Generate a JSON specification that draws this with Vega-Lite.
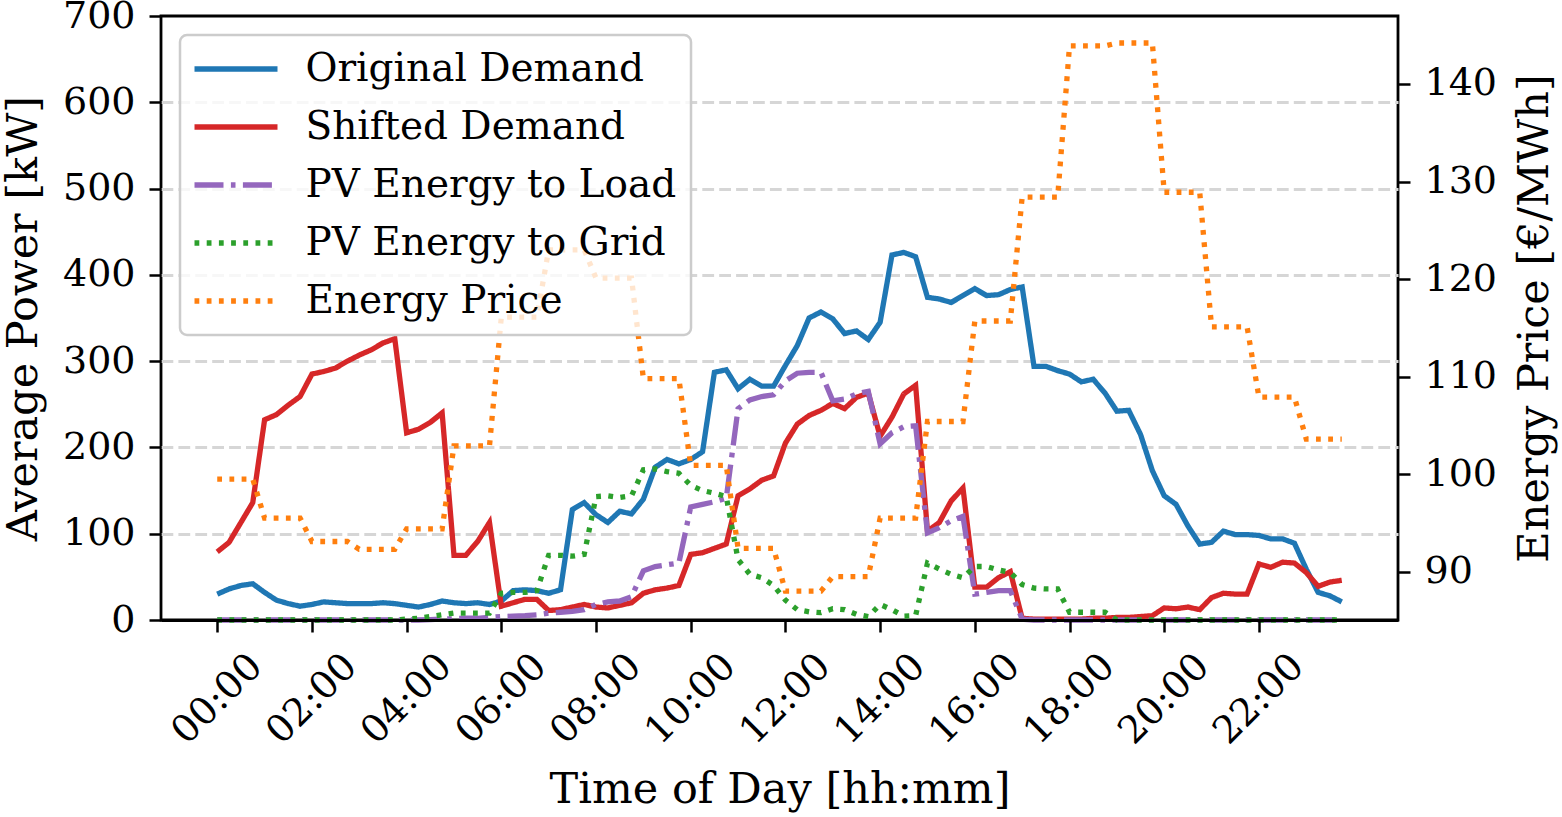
{
  "$schema": "https://vega.github.io/schema/vega-lite/v6.json",
  "width": 1237,
  "height": 604,
  "autosize": {"type": "none"},
  "padding": {"left": 161, "top": 16, "right": 164, "bottom": 197},
  "background": "white",
  "config": {
    "font": "DejaVu Serif",
    "view": {"stroke": "black", "strokeWidth": 2.8},
    "axis": {
      "labelFont": "DejaVu Serif",
      "labelFontSize": 38,
      "labelColor": "black",
      "titleFont": "DejaVu Serif",
      "titleFontSize": 43,
      "titleFontWeight": "normal",
      "titleColor": "black",
      "domain": false,
      "tickColor": "black",
      "tickWidth": 2.5,
      "tickSize": 12,
      "labelPadding": 14,
      "grid": false
    },
    "legend": {
      "orient": "none",
      "legendX": 19,
      "legendY": 19,
      "labelFont": "DejaVu Serif",
      "labelFontSize": 39,
      "labelColor": "black",
      "labelLimit": 0,
      "symbolType": "stroke",
      "symbolSize": 6889,
      "symbolStrokeWidth": 5.3,
      "symbolOffset": -2.5,
      "labelOffset": 25,
      "clipHeight": 40,
      "padding": 14,
      "rowPadding": 18,
      "strokeColor": "#cccccc",
      "fillColor": "rgba(255,255,255,0.8)",
      "cornerRadius": 7
    }
  },
  "data": {
    "values": [
      {"t": 0, "orig": 30, "shifted": 79, "pv_load": 0, "pv_grid": 0, "price": 99.5},
      {"t": 0.25, "orig": 36, "shifted": 90, "pv_load": 0, "pv_grid": 0, "price": 99.5},
      {"t": 0.5, "orig": 40, "shifted": 113, "pv_load": 0, "pv_grid": 0, "price": 99.5},
      {"t": 0.75, "orig": 42, "shifted": 136, "pv_load": 0, "pv_grid": 0, "price": 99.5},
      {"t": 1, "orig": 32, "shifted": 232, "pv_load": 0, "pv_grid": 0, "price": 95.5},
      {"t": 1.25, "orig": 23, "shifted": 238, "pv_load": 0, "pv_grid": 0, "price": 95.5},
      {"t": 1.5, "orig": 19, "shifted": 249, "pv_load": 0, "pv_grid": 0, "price": 95.5},
      {"t": 1.75, "orig": 16, "shifted": 259, "pv_load": 0, "pv_grid": 0, "price": 95.5},
      {"t": 2, "orig": 18, "shifted": 285, "pv_load": 0, "pv_grid": 0, "price": 93.1},
      {"t": 2.25, "orig": 21, "shifted": 288, "pv_load": 0, "pv_grid": 0, "price": 93.1},
      {"t": 2.5, "orig": 20, "shifted": 292, "pv_load": 0, "pv_grid": 0, "price": 93.1},
      {"t": 2.75, "orig": 19, "shifted": 300, "pv_load": 0, "pv_grid": 0, "price": 93.1},
      {"t": 3, "orig": 19, "shifted": 307, "pv_load": 0, "pv_grid": 0, "price": 92.3},
      {"t": 3.25, "orig": 19, "shifted": 313, "pv_load": 0, "pv_grid": 0, "price": 92.3},
      {"t": 3.5, "orig": 20, "shifted": 321, "pv_load": 0, "pv_grid": 0, "price": 92.3},
      {"t": 3.75, "orig": 19, "shifted": 326, "pv_load": 0, "pv_grid": 0, "price": 92.3},
      {"t": 4, "orig": 17, "shifted": 217, "pv_load": 0, "pv_grid": 1, "price": 94.4},
      {"t": 4.25, "orig": 15, "shifted": 221, "pv_load": 0, "pv_grid": 2, "price": 94.4},
      {"t": 4.5, "orig": 18, "shifted": 229, "pv_load": 0.5, "pv_grid": 4, "price": 94.4},
      {"t": 4.75, "orig": 22, "shifted": 240, "pv_load": 1, "pv_grid": 6, "price": 94.4},
      {"t": 5, "orig": 20, "shifted": 75, "pv_load": 1.5, "pv_grid": 8, "price": 102.9},
      {"t": 5.25, "orig": 19, "shifted": 75, "pv_load": 2, "pv_grid": 8, "price": 102.9},
      {"t": 5.5, "orig": 20, "shifted": 91, "pv_load": 2, "pv_grid": 8, "price": 102.9},
      {"t": 5.75, "orig": 18, "shifted": 113, "pv_load": 3, "pv_grid": 8, "price": 102.9},
      {"t": 6, "orig": 22, "shifted": 16, "pv_load": 4, "pv_grid": 31, "price": 116.1},
      {"t": 6.25, "orig": 34, "shifted": 20, "pv_load": 4.5, "pv_grid": 32, "price": 116.1},
      {"t": 6.5, "orig": 35, "shifted": 24, "pv_load": 5, "pv_grid": 32, "price": 116.1},
      {"t": 6.75, "orig": 34, "shifted": 24, "pv_load": 6, "pv_grid": 34, "price": 116.1},
      {"t": 7, "orig": 31, "shifted": 11, "pv_load": 8, "pv_grid": 75, "price": 123.0},
      {"t": 7.25, "orig": 35, "shifted": 12, "pv_load": 9, "pv_grid": 75, "price": 123.0},
      {"t": 7.5, "orig": 128, "shifted": 15, "pv_load": 10, "pv_grid": 74, "price": 123.0},
      {"t": 7.75, "orig": 136, "shifted": 18, "pv_load": 12, "pv_grid": 76, "price": 123.0},
      {"t": 8, "orig": 122, "shifted": 15, "pv_load": 18, "pv_grid": 143, "price": 120.1},
      {"t": 8.25, "orig": 113, "shifted": 14, "pv_load": 21, "pv_grid": 144, "price": 120.1},
      {"t": 8.5, "orig": 126, "shifted": 17, "pv_load": 22, "pv_grid": 142, "price": 120.1},
      {"t": 8.75, "orig": 123, "shifted": 20, "pv_load": 27, "pv_grid": 144, "price": 120.1},
      {"t": 9, "orig": 140, "shifted": 31, "pv_load": 57, "pv_grid": 174, "price": 109.8},
      {"t": 9.25, "orig": 177, "shifted": 35, "pv_load": 62, "pv_grid": 175, "price": 109.8},
      {"t": 9.5, "orig": 186, "shifted": 37, "pv_load": 64, "pv_grid": 172, "price": 109.8},
      {"t": 9.75, "orig": 181, "shifted": 40, "pv_load": 66, "pv_grid": 170, "price": 109.8},
      {"t": 10, "orig": 186, "shifted": 76, "pv_load": 131, "pv_grid": 156, "price": 100.9},
      {"t": 10.25, "orig": 195, "shifted": 78, "pv_load": 134, "pv_grid": 150, "price": 100.9},
      {"t": 10.5, "orig": 287, "shifted": 83, "pv_load": 137, "pv_grid": 147, "price": 100.9},
      {"t": 10.75, "orig": 290, "shifted": 88, "pv_load": 141, "pv_grid": 143, "price": 100.9},
      {"t": 11, "orig": 268, "shifted": 144, "pv_load": 245, "pv_grid": 70, "price": 92.4},
      {"t": 11.25, "orig": 279, "shifted": 152, "pv_load": 255, "pv_grid": 53, "price": 92.4},
      {"t": 11.5, "orig": 271, "shifted": 162, "pv_load": 259, "pv_grid": 49, "price": 92.4},
      {"t": 11.75, "orig": 271, "shifted": 167, "pv_load": 261, "pv_grid": 40, "price": 92.4},
      {"t": 12, "orig": 295, "shifted": 205, "pv_load": 277, "pv_grid": 23, "price": 88.0},
      {"t": 12.25, "orig": 318, "shifted": 227, "pv_load": 286, "pv_grid": 12, "price": 88.0},
      {"t": 12.5, "orig": 350, "shifted": 237, "pv_load": 287, "pv_grid": 9.5, "price": 88.0},
      {"t": 12.75, "orig": 357, "shifted": 243, "pv_load": 287, "pv_grid": 8.5, "price": 88.0},
      {"t": 13, "orig": 349, "shifted": 251, "pv_load": 254, "pv_grid": 13, "price": 89.5},
      {"t": 13.25, "orig": 332, "shifted": 245, "pv_load": 256, "pv_grid": 12, "price": 89.5},
      {"t": 13.5, "orig": 335, "shifted": 258, "pv_load": 262, "pv_grid": 6.5, "price": 89.5},
      {"t": 13.75, "orig": 325, "shifted": 263, "pv_load": 265, "pv_grid": 4, "price": 89.5},
      {"t": 14, "orig": 345, "shifted": 213, "pv_load": 204, "pv_grid": 18, "price": 95.5},
      {"t": 14.25, "orig": 423, "shifted": 235, "pv_load": 217, "pv_grid": 12, "price": 95.5},
      {"t": 14.5, "orig": 426, "shifted": 262, "pv_load": 224, "pv_grid": 4.5, "price": 95.5},
      {"t": 14.75, "orig": 421, "shifted": 272, "pv_load": 225, "pv_grid": 5, "price": 95.5},
      {"t": 15, "orig": 374, "shifted": 103, "pv_load": 101, "pv_grid": 66, "price": 105.4},
      {"t": 15.25, "orig": 372, "shifted": 113, "pv_load": 107, "pv_grid": 59, "price": 105.4},
      {"t": 15.5, "orig": 368, "shifted": 138, "pv_load": 115, "pv_grid": 53, "price": 105.4},
      {"t": 15.75, "orig": 376, "shifted": 153, "pv_load": 120, "pv_grid": 49, "price": 105.4},
      {"t": 16, "orig": 384, "shifted": 38, "pv_load": 30, "pv_grid": 62, "price": 115.7},
      {"t": 16.25, "orig": 376, "shifted": 38, "pv_load": 32, "pv_grid": 62, "price": 115.7},
      {"t": 16.5, "orig": 377, "shifted": 49, "pv_load": 34, "pv_grid": 58, "price": 115.7},
      {"t": 16.75, "orig": 383, "shifted": 56, "pv_load": 34, "pv_grid": 55, "price": 115.7},
      {"t": 17, "orig": 386, "shifted": 2, "pv_load": 1, "pv_grid": 41, "price": 128.4},
      {"t": 17.25, "orig": 294, "shifted": 1, "pv_load": 0, "pv_grid": 37, "price": 128.4},
      {"t": 17.5, "orig": 294, "shifted": 1, "pv_load": 0, "pv_grid": 36, "price": 128.4},
      {"t": 17.75, "orig": 289, "shifted": 1, "pv_load": 0, "pv_grid": 36, "price": 128.4},
      {"t": 18, "orig": 285, "shifted": 1, "pv_load": 0, "pv_grid": 9, "price": 143.9},
      {"t": 18.25, "orig": 276, "shifted": 1, "pv_load": 0, "pv_grid": 9, "price": 143.9},
      {"t": 18.5, "orig": 279, "shifted": 2, "pv_load": 0, "pv_grid": 9, "price": 143.9},
      {"t": 18.75, "orig": 263, "shifted": 2, "pv_load": 0, "pv_grid": 9, "price": 143.9},
      {"t": 19, "orig": 242, "shifted": 3, "pv_load": 0, "pv_grid": 0, "price": 144.2},
      {"t": 19.25, "orig": 243, "shifted": 3, "pv_load": 0, "pv_grid": 0, "price": 144.2},
      {"t": 19.5, "orig": 215, "shifted": 4, "pv_load": 0, "pv_grid": 0, "price": 144.2},
      {"t": 19.75, "orig": 173, "shifted": 5, "pv_load": 0, "pv_grid": 0, "price": 144.2},
      {"t": 20, "orig": 144, "shifted": 14, "pv_load": 0, "pv_grid": 0, "price": 128.9},
      {"t": 20.25, "orig": 134, "shifted": 13, "pv_load": 0, "pv_grid": 0, "price": 128.9},
      {"t": 20.5, "orig": 109, "shifted": 15, "pv_load": 0, "pv_grid": 0, "price": 128.9},
      {"t": 20.75, "orig": 88, "shifted": 12, "pv_load": 0, "pv_grid": 0, "price": 128.9},
      {"t": 21, "orig": 90, "shifted": 26, "pv_load": 0, "pv_grid": 0, "price": 115.1},
      {"t": 21.25, "orig": 103, "shifted": 31, "pv_load": 0, "pv_grid": 0, "price": 115.1},
      {"t": 21.5, "orig": 99, "shifted": 30, "pv_load": 0, "pv_grid": 0, "price": 115.1},
      {"t": 21.75, "orig": 99, "shifted": 30, "pv_load": 0, "pv_grid": 0, "price": 115.1},
      {"t": 22, "orig": 98, "shifted": 65, "pv_load": 0, "pv_grid": 0, "price": 107.9},
      {"t": 22.25, "orig": 94, "shifted": 61, "pv_load": 0, "pv_grid": 0, "price": 107.9},
      {"t": 22.5, "orig": 94, "shifted": 67, "pv_load": 0, "pv_grid": 0, "price": 107.9},
      {"t": 22.75, "orig": 89, "shifted": 66, "pv_load": 0, "pv_grid": 0, "price": 107.9},
      {"t": 23, "orig": 59, "shifted": 55, "pv_load": 0, "pv_grid": 0, "price": 103.6},
      {"t": 23.25, "orig": 32, "shifted": 39, "pv_load": 0, "pv_grid": 0, "price": 103.6},
      {"t": 23.5, "orig": 28, "shifted": 44, "pv_load": 0, "pv_grid": 0, "price": 103.6},
      {"t": 23.75, "orig": 21, "shifted": 46, "pv_load": 0, "pv_grid": 0, "price": 103.6}
    ]
  },
  "transform": [
    {"fold": ["orig", "shifted", "pv_load", "pv_grid", "price"], "as": ["series", "value"]}
  ],
  "encoding": {
    "x": {
      "field": "t",
      "type": "quantitative",
      "scale": {"domain": [-1.1875, 24.9375], "nice": false, "zero": false},
      "axis": {
        "title": "Time of Day [hh:mm]",
        "values": [0, 2, 4, 6, 8, 10, 12, 14, 16, 18, 20, 22],
        "labelExpr": "(datum.value < 10 ? '0' : '') + datum.value + ':00'",
        "labelAngle": -45,
        "labelAlign": "center",
        "labelBaseline": "middle",
        "labelPadding": 67,
        "labelOverlap": false,
        "labelBound": false,
        "labelFlush": false,
        "titlePadding": 17,
        "domain": true,
        "domainColor": "black",
        "domainWidth": 2.8,
        "zindex": 1
      }
    }
  },
  "layer": [
    {
      "transform": [{"filter": "datum.series != 'price'"}],
      "mark": {"type": "line", "strokeWidth": 5.3},
      "encoding": {
        "y": {
          "field": "value",
          "type": "quantitative",
          "scale": {"domain": [0, 700], "nice": false},
          "axis": {
            "orient": "left",
            "title": "Average Power [kW]",
            "values": [0, 100, 200, 300, 400, 500, 600, 700],
            "grid": true,
            "gridColor": "#d6d6d6",
            "gridDash": [11.8, 5.1],
            "gridWidth": 2.8,
            "gridOpacity": {"condition": {"test": "datum.value == 0 || datum.value == 700", "value": 0}, "value": 1},
            "titlePadding": 17
          }
        },
        "color": {
          "field": "series",
          "type": "nominal",
          "scale": {
            "domain": ["orig", "shifted", "pv_load", "pv_grid", "price"],
            "range": ["#1f77b4", "#d62728", "#9467bd", "#2ca02c", "#ff7f0e"]
          },
          "legend": {
            "title": null,
            "labelExpr": "datum.label == 'orig' ? 'Original Demand' : datum.label == 'shifted' ? 'Shifted Demand' : datum.label == 'pv_load' ? 'PV Energy to Load' : datum.label == 'pv_grid' ? 'PV Energy to Grid' : 'Energy Price'",
            "encode": {"legend": {"update": {"strokeWidth": {"value": 2.5}}}}
          }
        },
        "strokeDash": {
          "field": "series",
          "type": "nominal",
          "scale": {
            "domain": ["orig", "shifted", "pv_load", "pv_grid", "price"],
            "range": [[1, 0], [1, 0], [29, 7.4, 4.6, 7.4], [4.8, 7.4], [4.8, 7.4]]
          },
          "legend": {
            "title": null,
            "labelExpr": "datum.label == 'orig' ? 'Original Demand' : datum.label == 'shifted' ? 'Shifted Demand' : datum.label == 'pv_load' ? 'PV Energy to Load' : datum.label == 'pv_grid' ? 'PV Energy to Grid' : 'Energy Price'"
          }
        }
      }
    },
    {
      "transform": [{"filter": "datum.series == 'price'"}],
      "mark": {"type": "line", "strokeWidth": 5.3},
      "encoding": {
        "y": {
          "field": "value",
          "type": "quantitative",
          "scale": {"domain": [85.05, 146.97], "nice": false, "zero": false},
          "axis": {
            "orient": "right",
            "title": "Energy Price [€/MWh]",
            "values": [90, 100, 110, 120, 130, 140],
            "titleAngle": 270,
            "titleBaseline": "top",
            "titlePadding": 17
          }
        },
        "color": {
          "field": "series",
          "type": "nominal",
          "scale": {
            "domain": ["orig", "shifted", "pv_load", "pv_grid", "price"],
            "range": ["#1f77b4", "#d62728", "#9467bd", "#2ca02c", "#ff7f0e"]
          }
        },
        "strokeDash": {
          "field": "series",
          "type": "nominal",
          "scale": {
            "domain": ["orig", "shifted", "pv_load", "pv_grid", "price"],
            "range": [[1, 0], [1, 0], [29, 7.4, 4.6, 7.4], [4.8, 7.4], [4.8, 7.4]]
          }
        }
      }
    }
  ],
  "resolve": {"scale": {"y": "independent"}}
}
